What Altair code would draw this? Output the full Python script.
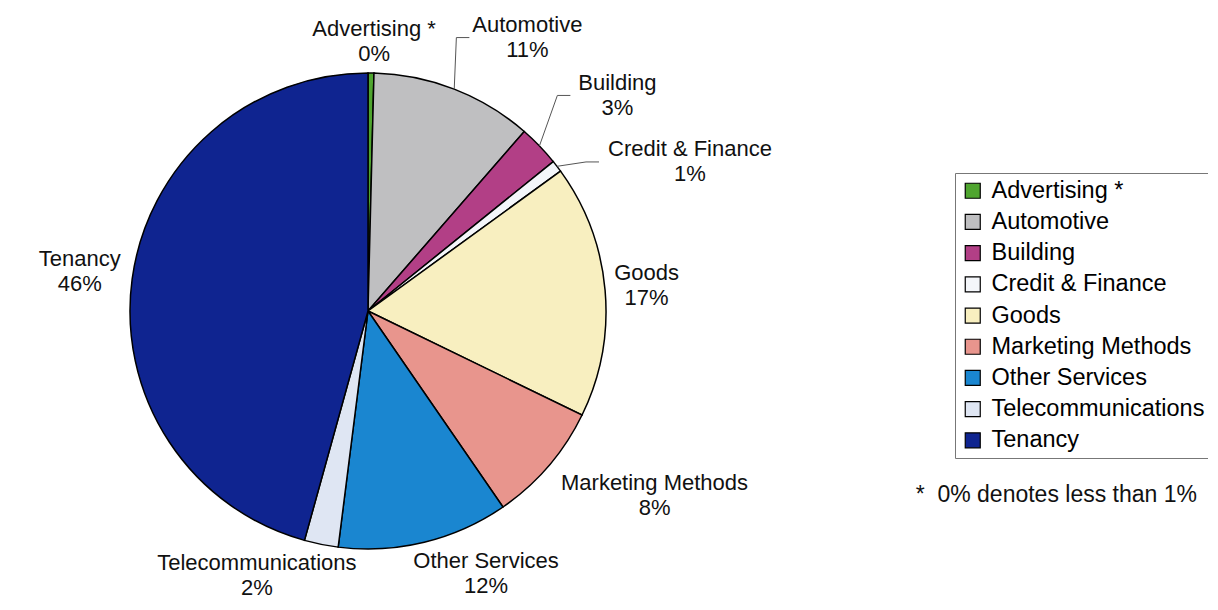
import altair as alt
import pandas as pd

# ---- data ----
CATEGORIES = [
    "Advertising *", "Automotive", "Building", "Credit & Finance", "Goods",
    "Marketing Methods", "Other Services", "Telecommunications", "Tenancy",
]
VALUES = [0.4, 11.0, 2.8, 0.8, 17.2, 8.2, 11.6, 2.3, 45.7]
COLORS = [
    "#4fa52f", "#bfbfc1", "#b23f86", "#f4f6fa", "#f8efc0",
    "#e8958d", "#1a86d0", "#dfe6f3", "#0f2490",
]
NOTE = "*\u00a0\u00a00% denotes less than 1%"

# ---- layout / style ----
CX, CY, R = 360, 303, 238
GAP = 6
HGAP = 8        # extra horizontal clearance of labels
K = 11          # approx character width of labels (px)
HALF_H = 25.5   # half height of the two-line label block
FONT = "Liberation Sans"

df = pd.DataFrame({"cat": CATEGORIES, "value": VALUES, "idx": list(range(len(CATEGORIES)))})

arcs = alt.Chart(df).mark_arc(radius=R, stroke="black", strokeWidth=1.5).encode(
    theta=alt.Theta("value:Q", stack=True),
    order=alt.Order("idx:Q"),
    color=alt.Color(
        "cat:N",
        scale=alt.Scale(domain=CATEGORIES, range=COLORS),
        legend=alt.Legend(
            orient="none", legendX=947, legendY=165, title=None,
            symbolType="square", symbolSize=225, symbolStrokeColor="black",
            symbolStrokeWidth=1.2, symbolOpacity=1,
            labelFontSize=23.5, labelFont=FONT, labelColor="black",
            labelOffset=7, labelLimit=400, rowPadding=6.2, padding=6,
            strokeColor="#777777", fillColor="white",
        ),
    ),
    x=alt.value(CX),
    y=alt.value(CY),
)

lab = alt.Chart(df).transform_window(
    cum="sum(value)", sort=[alt.SortField(field="idx", order="ascending")], frame=[None, 0]
).transform_joinaggregate(
    total="sum(value)"
).transform_calculate(
    mid="(datum.cum - datum.value / 2) / datum.total * 2 * PI",
    push="datum.cat == 'Automotive' ? 22 : datum.cat == 'Building' ? 30 : datum.cat == 'Credit & Finance' ? 14 : 0",
    la="datum.mid + (datum.cat == 'Credit & Finance' ? 8.6 * PI / 180 : 0)",
    A=f"{R + GAP} + datum.push",
    w=f"length(datum.cat) * {K}",
    sx="clamp(3 * sin(datum.la), -1, 1)",
    sy="clamp(2 * cos(datum.la), -1, 1)",
    lx=f"{CX} + datum.A * sin(datum.la) + (datum.w / 2 + {HGAP}) * datum.sx",
    ly=f"{CY} - datum.A * cos(datum.la) - {HALF_H} * datum.sy",
    pct="round(datum.value / datum.total * 100) + '%'",
    ex=f"{CX} + {R} * sin(datum.mid)",
    ey=f"{CY} - {R} * cos(datum.mid)",
    kx="datum.lx - datum.w / 2 - 16",
    tx="datum.lx - datum.w / 2 - 3",
)

names = lab.mark_text(font=FONT, fontSize=22, color="#111111", align="center",
                      baseline="middle", dy=-12.5).encode(
    x=alt.X("lx:Q", scale=None), y=alt.Y("ly:Q", scale=None), text="cat:N")
pcts = lab.mark_text(font=FONT, fontSize=22, color="#111111", align="center",
                     baseline="middle", dy=12.5).encode(
    x=alt.X("lx:Q", scale=None), y=alt.Y("ly:Q", scale=None), text="pct:N")

lead1 = lab.transform_filter("datum.push > 0").mark_rule(color="#555555", strokeWidth=1).encode(
    x=alt.X("ex:Q", scale=None), y=alt.Y("ey:Q", scale=None),
    x2="kx:Q", y2="ly:Q")
lead2 = lab.transform_filter("datum.push > 0").mark_rule(color="#555555", strokeWidth=1).encode(
    x=alt.X("kx:Q", scale=None), y=alt.Y("ly:Q", scale=None),
    x2="tx:Q", y2="ly:Q")

note = alt.Chart(pd.DataFrame({"note": [NOTE]})).mark_text(
    font=FONT, fontSize=23, color="#111111", align="right", baseline="middle"
).encode(text="note:N", x=alt.value(1189), y=alt.value(487))

chart = alt.layer(arcs, lead1, lead2, names, pcts, note).properties(
    width=1200, height=594, autosize=alt.AutoSizeParams(type="none"), padding=0
).configure_view(stroke=None)

chart.save("out.html", embed_options={"renderer": "svg", "actions": False})
